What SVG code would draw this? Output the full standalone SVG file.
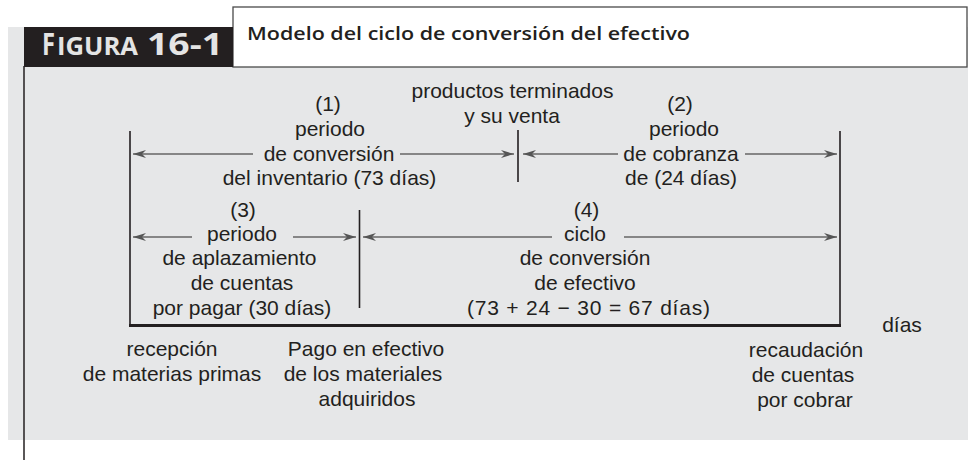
<svg xmlns="http://www.w3.org/2000/svg" width="968" height="460" viewBox="0 0 968 460">
  <style>
    .t { font-family: "Liberation Sans", Arial, sans-serif; font-size: 21px; fill: #231f20; text-anchor: middle; }
    .arr { stroke: #666; stroke-width: 1.5; fill: none; marker-end: url(#ah); }
    .vl { stroke: #231f20; stroke-width: 1.6; }
    .hd { font-family: "Open Sans", "DejaVu Sans", sans-serif; font-weight: 700; fill: #e4e4e4; }
  </style>
  <defs>
    <marker id="ah" markerUnits="userSpaceOnUse" markerWidth="16" markerHeight="10" viewBox="-14 -5 16 10" refX="0" refY="0" orient="auto">
      <path d="M0,0 L-13,-4 L-9,0 L-13,4 Z" fill="#555"/>
    </marker>
  </defs>

  <g id="background">
    <rect x="8" y="27" width="960" height="413" fill="#e6e7e8"/>
    <rect x="233" y="7" width="734" height="60" fill="#ffffff" stroke="#4a4a4a" stroke-width="1.3"/>
    <rect x="24" y="27" width="209" height="40" fill="#231f20"/>
    <line x1="24" y1="66" x2="24" y2="460" stroke="#231f20" stroke-width="1.5"/>
  </g>

  <g id="header">
    <text class="hd" x="42" y="55" font-size="31" textLength="13" lengthAdjust="spacingAndGlyphs">F</text>
    <text class="hd" x="57" y="55" font-size="25" textLength="81" lengthAdjust="spacingAndGlyphs">IGURA</text>
    <text class="hd" x="147" y="55" font-size="31" textLength="76" lengthAdjust="spacingAndGlyphs">16-1</text>
    <text x="247" y="40" font-family="'Open Sans', 'DejaVu Sans', sans-serif" font-weight="600" font-size="17.5" fill="#231f20" textLength="443" lengthAdjust="spacingAndGlyphs">Modelo del ciclo de conversión del efectivo</text>
  </g>

  <g id="connectors">
    <line class="vl" x1="130" y1="131" x2="130" y2="326"/>
    <line class="vl" x1="840" y1="131" x2="840" y2="326"/>
    <line class="vl" x1="518" y1="130" x2="518" y2="182"/>
    <line class="vl" x1="359.5" y1="210" x2="359.5" y2="308"/>
    <line x1="129" y1="325.5" x2="841" y2="325.5" stroke="#231f20" stroke-width="3"/>
    <line class="arr" x1="253" y1="154" x2="133" y2="154"/>
    <line class="arr" x1="400" y1="154" x2="514" y2="154"/>
    <line class="arr" x1="618" y1="154" x2="523" y2="154"/>
    <line class="arr" x1="745" y1="154" x2="837" y2="154"/>
    <line class="arr" x1="192" y1="237" x2="133" y2="237"/>
    <line class="arr" x1="293" y1="237" x2="356" y2="237"/>
    <line class="arr" x1="552" y1="237" x2="363" y2="237"/>
    <line class="arr" x1="624" y1="237" x2="837" y2="237"/>
  </g>

  <g id="periodo-conversion-inventario">
    <text class="t" x="328" y="111">(1)</text>
    <text class="t" x="330" y="135.5">periodo</text>
    <text class="t" x="329" y="160.5">de conversión</text>
    <text class="t" x="329.5" y="185">del inventario (73 días)</text>
  </g>

  <g id="productos-terminados">
    <text class="t" x="512.5" y="98">productos terminados</text>
    <text class="t" x="512" y="123">y su venta</text>
  </g>

  <g id="periodo-cobranza">
    <text class="t" x="680" y="111">(2)</text>
    <text class="t" x="684" y="135.5">periodo</text>
    <text class="t" x="681" y="160.5">de cobranza</text>
    <text class="t" x="681" y="185">de (24 días)</text>
  </g>

  <g id="periodo-aplazamiento">
    <text class="t" x="243" y="216.5">(3)</text>
    <text class="t" x="242" y="240.5">periodo</text>
    <text class="t" x="239.5" y="265">de aplazamiento</text>
    <text class="t" x="242" y="290">de cuentas</text>
    <text class="t" x="242" y="315">por pagar (30 días)</text>
  </g>

  <g id="ciclo-conversion-efectivo">
    <text class="t" x="586.5" y="216.5">(4)</text>
    <text class="t" x="585" y="240.5">ciclo</text>
    <text class="t" x="585" y="265">de conversión</text>
    <text class="t" x="585" y="290">de efectivo</text>
    <text class="t" x="588.5" y="315" textLength="243">(73 + 24 − 30 = 67 días)</text>
  </g>

  <g id="dias">
    <text class="t" x="902" y="332">días</text>
  </g>

  <g id="recepcion">
    <text class="t" x="172" y="356">recepción</text>
    <text class="t" x="172" y="381">de materias primas</text>
  </g>

  <g id="pago-efectivo">
    <text class="t" x="366" y="356">Pago en efectivo</text>
    <text class="t" x="363" y="381">de los materiales</text>
    <text class="t" x="367" y="406">adquiridos</text>
  </g>

  <g id="recaudacion">
    <text class="t" x="806" y="357">recaudación</text>
    <text class="t" x="803" y="382">de cuentas</text>
    <text class="t" x="805" y="407">por cobrar</text>
  </g>
</svg>
